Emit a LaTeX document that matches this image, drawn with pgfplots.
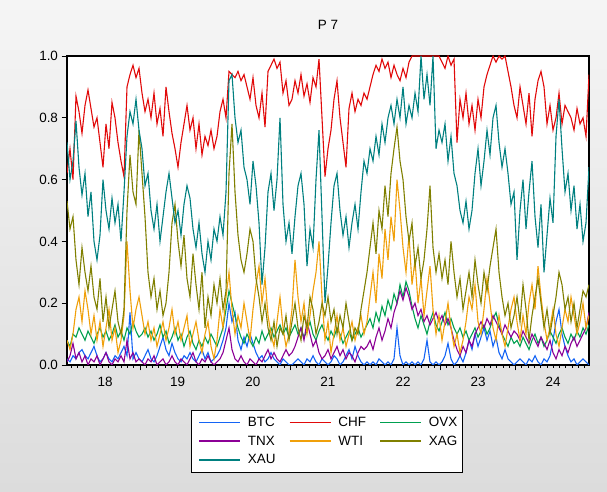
\documentclass[border=0pt]{standalone}
\usepackage{pgfplots}
\pgfplotsset{compat=1.18}
\usepackage{fontspec}
\setmainfont{Liberation Sans}
\definecolor{cBTC}{RGB}{20,100,245}
\definecolor{cCHF}{RGB}{225,10,10}
\definecolor{cOVX}{RGB}{0,160,80}
\definecolor{cTNX}{RGB}{140,0,150}
\definecolor{cWTI}{RGB}{240,160,10}
\definecolor{cXAG}{RGB}{128,128,0}
\definecolor{cXAU}{RGB}{0,128,128}
\definecolor{bgtop}{RGB}{245,245,245}
\definecolor{bgbot}{RGB}{220,220,220}
\begin{document}
\begin{tikzpicture}[x=1bp,y=1bp]
\shade[top color=bgtop, bottom color=bgbot] (0,0) rectangle (607,492);
\node[font=\fontsize{13.5}{16}\selectfont] at (328,467) {P 7};
\begin{axis}[
  at={(67bp,127bp)}, anchor=south west,
  scale only axis, width=522bp, height=309bp,
  xmin=67, xmax=589, ymin=0, ymax=1,
  axis background/.style={fill=white},
  axis line style={line width=1.3bp, black},
  tick align=outside, tick pos=left,
  tick style={black, line width=0.8bp},
  major tick length=5.5bp, minor tick length=3bp,
  xtick={140.0,215.2,290.3,365.4,440.6,515.7},
  xticklabels={},
  minor xtick={71.16,77.42,...,589},
  extra x ticks={105,177.6,252.8,327.9,403,478.2,553},
  extra x tick labels={18,19,20,21,22,23,24},
  extra x tick style={major tick length=0pt},
  xticklabel style={yshift=-9bp},
  ytick={0,0.2,0.4,0.6,0.8,1},
  yticklabel style={/pgf/number format/.cd, fixed, fixed zerofill, precision=1},
  /pgf/number format/assume math mode=true,
  ticklabel style={font=\fontsize{13.5}{16}\selectfont},
  every axis plot/.append style={mark=none},
  legend columns=3,
  legend cell align=left,
  legend image code/.code={\draw[#1, line width=1.5bp] (0bp,0bp) -- (41bp,0bp);},
  legend style={at={(0.2375,-0.1456)}, anchor=north west, draw=black, line width=0.8bp, fill=white,
    font=\fontsize{13.5}{16}\selectfont, inner xsep=7bp, inner ysep=2.5bp,
    nodes={inner ysep=4bp, inner xsep=0bp}},
]
\addplot[draw=cBTC, line width=1.1bp] table[row sep=\\, x expr=67+3*\coordindex, y=v] {v\\
0.02\\ 0.01\\ 0.03\\ 0.02\\ 0.04\\ 0.05\\ 0.03\\ 0.02\\ 0.04\\ 0.06\\ 0.03\\ 0.01\\ 0.02\\ 0.04\\ 0.02\\ 0.01\\ 0.03\\ 0.02\\ 0.04\\ 0.06\\ 0.03\\ 0.17\\ 0.02\\ 0.04\\ 0.02\\
0.01\\ 0.03\\ 0.05\\ 0.02\\ 0.01\\ 0.03\\ 0.06\\ 0.09\\ 0.05\\ 0.03\\ 0.07\\ 0.04\\ 0.02\\ 0.01\\ 0.03\\ 0.02\\ 0.04\\ 0.02\\ 0.01\\ 0.03\\ 0.05\\ 0.02\\ 0.04\\ 0.01\\ 0.02\\
0.03\\ 0.05\\ 0.08\\ 0.12\\ 0.20\\ 0.14\\ 0.17\\ 0.08\\ 0.05\\ 0.09\\ 0.06\\ 0.10\\ 0.07\\ 0.04\\ 0.02\\ 0.03\\ 0.01\\ 0.02\\ 0.04\\ 0.02\\ 0.01\\ 0.00\\ 0.02\\ 0.01\\ 0.00\\
0.00\\ 0.01\\ 0.02\\ 0.01\\ 0.00\\ 0.02\\ 0.01\\ 0.03\\ 0.01\\ 0.00\\ 0.02\\ 0.01\\ 0.00\\ 0.01\\ 0.03\\ 0.02\\ 0.00\\ 0.01\\ 0.03\\ 0.05\\ 0.02\\ 0.06\\ 0.03\\ 0.01\\ 0.00\\
0.01\\ 0.00\\ 0.01\\ 0.00\\ 0.02\\ 0.01\\ 0.00\\ 0.01\\ 0.00\\ 0.02\\ 0.12\\ 0.03\\ 0.00\\ 0.01\\ 0.00\\ 0.01\\ 0.00\\ 0.01\\ 0.00\\ 0.02\\ 0.08\\ 0.01\\ 0.00\\ 0.01\\ 0.00\\
0.01\\ 0.03\\ 0.07\\ 0.02\\ 0.00\\ 0.01\\ 0.03\\ 0.01\\ 0.04\\ 0.08\\ 0.05\\ 0.10\\ 0.06\\ 0.09\\ 0.12\\ 0.08\\ 0.11\\ 0.06\\ 0.09\\ 0.04\\ 0.02\\ 0.05\\ 0.02\\ 0.01\\ 0.00\\
0.01\\ 0.02\\ 0.01\\ 0.00\\ 0.02\\ 0.01\\ 0.03\\ 0.01\\ 0.00\\ 0.02\\ 0.01\\ 0.03\\ 0.08\\ 0.14\\ 0.18\\ 0.10\\ 0.06\\ 0.03\\ 0.01\\ 0.02\\ 0.00\\ 0.01\\ 0.02\\ 0.01\\ 0.00\\
};
\addlegendentry{\makebox[48bp][l]{\hspace{7bp}BTC}}
\addplot[draw=cCHF, line width=1.1bp] table[row sep=\\, x expr=67+3*\coordindex, y=v] {v\\
0.62\\ 0.70\\ 0.60\\ 0.87\\ 0.82\\ 0.75\\ 0.84\\ 0.89\\ 0.83\\ 0.77\\ 0.80\\ 0.72\\ 0.64\\ 0.78\\ 0.70\\ 0.85\\ 0.80\\ 0.72\\ 0.66\\ 0.61\\ 0.90\\ 0.94\\ 0.97\\ 0.93\\ 0.96\\
0.88\\ 0.82\\ 0.86\\ 0.80\\ 0.88\\ 0.78\\ 0.83\\ 0.74\\ 0.90\\ 0.82\\ 0.75\\ 0.70\\ 0.64\\ 0.72\\ 0.78\\ 0.84\\ 0.76\\ 0.80\\ 0.70\\ 0.78\\ 0.68\\ 0.74\\ 0.71\\ 0.76\\ 0.70\\
0.74\\ 0.82\\ 0.86\\ 0.80\\ 0.95\\ 0.94\\ 0.93\\ 0.95\\ 0.92\\ 0.94\\ 0.90\\ 0.86\\ 0.93\\ 0.84\\ 0.80\\ 0.88\\ 0.77\\ 0.95\\ 0.97\\ 0.99\\ 0.96\\ 0.98\\ 0.88\\ 0.92\\ 0.84\\
0.86\\ 0.92\\ 0.88\\ 0.94\\ 0.87\\ 0.91\\ 0.85\\ 0.93\\ 0.90\\ 0.99\\ 0.80\\ 0.61\\ 0.70\\ 0.76\\ 0.86\\ 0.92\\ 0.80\\ 0.72\\ 0.64\\ 0.83\\ 0.88\\ 0.82\\ 0.86\\ 0.84\\ 0.88\\
0.86\\ 0.90\\ 0.94\\ 0.97\\ 0.95\\ 0.99\\ 0.96\\ 0.98\\ 0.93\\ 0.97\\ 0.94\\ 0.92\\ 0.96\\ 0.93\\ 0.98\\ 1.00\\ 1.00\\ 1.00\\ 1.00\\ 1.00\\ 1.00\\ 1.00\\ 1.00\\ 1.00\\ 1.00\\
0.98\\ 0.96\\ 1.00\\ 0.97\\ 0.99\\ 0.72\\ 0.86\\ 0.80\\ 0.88\\ 0.78\\ 0.84\\ 0.76\\ 0.86\\ 0.80\\ 0.90\\ 0.94\\ 0.97\\ 1.00\\ 0.98\\ 1.00\\ 0.99\\ 1.00\\ 0.95\\ 0.90\\ 0.84\\
0.80\\ 0.90\\ 0.84\\ 0.78\\ 0.88\\ 0.74\\ 0.86\\ 0.92\\ 0.95\\ 0.90\\ 0.78\\ 0.84\\ 0.76\\ 0.80\\ 0.88\\ 0.78\\ 0.84\\ 0.82\\ 0.80\\ 0.76\\ 0.83\\ 0.78\\ 0.80\\ 0.74\\ 0.94\\
};
\addlegendentry{\makebox[48bp][l]{\hspace{7bp}CHF}}
\addplot[draw=cOVX, line width=1.1bp] table[row sep=\\, x expr=67+3*\coordindex, y=v] {v\\
0.08\\ 0.06\\ 0.10\\ 0.09\\ 0.12\\ 0.10\\ 0.08\\ 0.11\\ 0.09\\ 0.07\\ 0.10\\ 0.12\\ 0.09\\ 0.11\\ 0.08\\ 0.10\\ 0.13\\ 0.09\\ 0.11\\ 0.08\\ 0.12\\ 0.10\\ 0.14\\ 0.11\\ 0.09\\
0.10\\ 0.12\\ 0.09\\ 0.11\\ 0.08\\ 0.10\\ 0.13\\ 0.09\\ 0.11\\ 0.07\\ 0.09\\ 0.12\\ 0.08\\ 0.10\\ 0.06\\ 0.09\\ 0.11\\ 0.07\\ 0.05\\ 0.08\\ 0.06\\ 0.09\\ 0.07\\ 0.10\\ 0.08\\
0.06\\ 0.09\\ 0.12\\ 0.18\\ 0.24\\ 0.20\\ 0.16\\ 0.12\\ 0.09\\ 0.07\\ 0.10\\ 0.08\\ 0.06\\ 0.09\\ 0.07\\ 0.11\\ 0.08\\ 0.10\\ 0.12\\ 0.09\\ 0.11\\ 0.13\\ 0.10\\ 0.12\\ 0.09\\
0.11\\ 0.13\\ 0.10\\ 0.12\\ 0.09\\ 0.11\\ 0.14\\ 0.10\\ 0.08\\ 0.11\\ 0.13\\ 0.10\\ 0.08\\ 0.11\\ 0.09\\ 0.12\\ 0.10\\ 0.07\\ 0.09\\ 0.11\\ 0.08\\ 0.10\\ 0.12\\ 0.09\\ 0.11\\
0.13\\ 0.15\\ 0.12\\ 0.17\\ 0.14\\ 0.19\\ 0.16\\ 0.21\\ 0.18\\ 0.23\\ 0.20\\ 0.26\\ 0.22\\ 0.27\\ 0.24\\ 0.19\\ 0.15\\ 0.12\\ 0.16\\ 0.13\\ 0.10\\ 0.14\\ 0.17\\ 0.13\\ 0.11\\
0.14\\ 0.17\\ 0.13\\ 0.15\\ 0.12\\ 0.10\\ 0.12\\ 0.09\\ 0.11\\ 0.08\\ 0.10\\ 0.12\\ 0.09\\ 0.11\\ 0.13\\ 0.10\\ 0.12\\ 0.15\\ 0.17\\ 0.13\\ 0.10\\ 0.08\\ 0.06\\ 0.09\\ 0.07\\
0.08\\ 0.06\\ 0.09\\ 0.07\\ 0.05\\ 0.08\\ 0.10\\ 0.07\\ 0.09\\ 0.06\\ 0.08\\ 0.11\\ 0.09\\ 0.07\\ 0.10\\ 0.12\\ 0.09\\ 0.07\\ 0.10\\ 0.08\\ 0.11\\ 0.09\\ 0.12\\ 0.10\\ 0.13\\
};
\addlegendentry{\makebox[34bp][l]{\hspace{7bp}OVX}}
\addplot[draw=cTNX, line width=1.1bp] table[row sep=\\, x expr=67+3*\coordindex, y=v] {v\\
0.01\\ 0.03\\ 0.07\\ 0.02\\ 0.04\\ 0.01\\ 0.03\\ 0.00\\ 0.02\\ 0.01\\ 0.03\\ 0.00\\ 0.02\\ 0.04\\ 0.01\\ 0.00\\ 0.02\\ 0.01\\ 0.03\\ 0.01\\ 0.08\\ 0.02\\ 0.04\\ 0.01\\ 0.02\\
0.01\\ 0.00\\ 0.02\\ 0.01\\ 0.03\\ 0.00\\ 0.01\\ 0.02\\ 0.00\\ 0.01\\ 0.03\\ 0.01\\ 0.00\\ 0.02\\ 0.01\\ 0.00\\ 0.02\\ 0.04\\ 0.01\\ 0.00\\ 0.02\\ 0.01\\ 0.03\\ 0.01\\ 0.00\\
0.01\\ 0.02\\ 0.04\\ 0.08\\ 0.12\\ 0.05\\ 0.02\\ 0.01\\ 0.03\\ 0.01\\ 0.00\\ 0.02\\ 0.01\\ 0.00\\ 0.02\\ 0.01\\ 0.03\\ 0.05\\ 0.02\\ 0.04\\ 0.02\\ 0.01\\ 0.03\\ 0.05\\ 0.03\\
0.04\\ 0.06\\ 0.09\\ 0.12\\ 0.08\\ 0.14\\ 0.10\\ 0.06\\ 0.08\\ 0.04\\ 0.02\\ 0.03\\ 0.05\\ 0.02\\ 0.04\\ 0.06\\ 0.03\\ 0.05\\ 0.02\\ 0.04\\ 0.03\\ 0.01\\ 0.04\\ 0.06\\ 0.05\\
0.06\\ 0.08\\ 0.05\\ 0.09\\ 0.12\\ 0.08\\ 0.11\\ 0.15\\ 0.12\\ 0.17\\ 0.20\\ 0.24\\ 0.21\\ 0.25\\ 0.22\\ 0.18\\ 0.20\\ 0.16\\ 0.18\\ 0.14\\ 0.16\\ 0.13\\ 0.15\\ 0.17\\ 0.14\\
0.16\\ 0.13\\ 0.15\\ 0.12\\ 0.08\\ 0.05\\ 0.03\\ 0.06\\ 0.04\\ 0.08\\ 0.06\\ 0.10\\ 0.12\\ 0.14\\ 0.12\\ 0.15\\ 0.13\\ 0.16\\ 0.14\\ 0.12\\ 0.10\\ 0.13\\ 0.11\\ 0.09\\ 0.11\\
0.10\\ 0.08\\ 0.11\\ 0.09\\ 0.07\\ 0.10\\ 0.08\\ 0.06\\ 0.09\\ 0.07\\ 0.05\\ 0.08\\ 0.04\\ 0.02\\ 0.05\\ 0.03\\ 0.06\\ 0.04\\ 0.07\\ 0.09\\ 0.06\\ 0.08\\ 0.10\\ 0.12\\ 0.17\\
};
\addlegendentry{\makebox[48bp][l]{\hspace{7bp}TNX}}
\addplot[draw=cWTI, line width=1.1bp] table[row sep=\\, x expr=67+3*\coordindex, y=v] {v\\
0.08\\ 0.05\\ 0.10\\ 0.18\\ 0.22\\ 0.14\\ 0.24\\ 0.18\\ 0.10\\ 0.16\\ 0.08\\ 0.14\\ 0.06\\ 0.12\\ 0.18\\ 0.08\\ 0.12\\ 0.04\\ 0.08\\ 0.16\\ 0.40\\ 0.24\\ 0.12\\ 0.18\\ 0.22\\
0.16\\ 0.10\\ 0.14\\ 0.08\\ 0.12\\ 0.06\\ 0.10\\ 0.14\\ 0.08\\ 0.12\\ 0.18\\ 0.10\\ 0.14\\ 0.08\\ 0.12\\ 0.16\\ 0.06\\ 0.10\\ 0.14\\ 0.08\\ 0.04\\ 0.10\\ 0.14\\ 0.06\\ 0.02\\
0.08\\ 0.18\\ 0.12\\ 0.22\\ 0.30\\ 0.18\\ 0.10\\ 0.16\\ 0.12\\ 0.20\\ 0.14\\ 0.08\\ 0.18\\ 0.26\\ 0.32\\ 0.20\\ 0.28\\ 0.16\\ 0.10\\ 0.06\\ 0.14\\ 0.22\\ 0.12\\ 0.06\\ 0.10\\
0.18\\ 0.34\\ 0.22\\ 0.14\\ 0.20\\ 0.10\\ 0.16\\ 0.24\\ 0.30\\ 0.40\\ 0.22\\ 0.08\\ 0.14\\ 0.04\\ 0.10\\ 0.16\\ 0.08\\ 0.12\\ 0.06\\ 0.10\\ 0.14\\ 0.08\\ 0.12\\ 0.16\\ 0.10\\
0.14\\ 0.22\\ 0.30\\ 0.20\\ 0.36\\ 0.28\\ 0.44\\ 0.34\\ 0.48\\ 0.40\\ 0.60\\ 0.50\\ 0.38\\ 0.30\\ 0.42\\ 0.26\\ 0.34\\ 0.20\\ 0.28\\ 0.16\\ 0.24\\ 0.32\\ 0.18\\ 0.10\\ 0.16\\
0.08\\ 0.14\\ 0.20\\ 0.12\\ 0.06\\ 0.10\\ 0.04\\ 0.08\\ 0.14\\ 0.22\\ 0.18\\ 0.26\\ 0.14\\ 0.10\\ 0.18\\ 0.28\\ 0.20\\ 0.12\\ 0.08\\ 0.16\\ 0.10\\ 0.06\\ 0.12\\ 0.18\\ 0.22\\
0.14\\ 0.08\\ 0.16\\ 0.10\\ 0.20\\ 0.26\\ 0.18\\ 0.32\\ 0.22\\ 0.14\\ 0.08\\ 0.12\\ 0.18\\ 0.10\\ 0.06\\ 0.12\\ 0.18\\ 0.14\\ 0.22\\ 0.16\\ 0.10\\ 0.14\\ 0.20\\ 0.12\\ 0.16\\
};
\addlegendentry{\makebox[48bp][l]{\hspace{7bp}WTI}}
\addplot[draw=cXAG, line width=1.1bp] table[row sep=\\, x expr=67+3*\coordindex, y=v] {v\\
0.53\\ 0.44\\ 0.48\\ 0.34\\ 0.26\\ 0.38\\ 0.30\\ 0.24\\ 0.32\\ 0.22\\ 0.18\\ 0.28\\ 0.14\\ 0.22\\ 0.12\\ 0.18\\ 0.24\\ 0.14\\ 0.10\\ 0.18\\ 0.50\\ 0.68\\ 0.56\\ 0.52\\ 0.76\\
0.62\\ 0.48\\ 0.30\\ 0.22\\ 0.28\\ 0.18\\ 0.24\\ 0.16\\ 0.20\\ 0.30\\ 0.46\\ 0.52\\ 0.40\\ 0.32\\ 0.42\\ 0.28\\ 0.22\\ 0.36\\ 0.26\\ 0.18\\ 0.30\\ 0.12\\ 0.22\\ 0.16\\ 0.26\\
0.20\\ 0.28\\ 0.18\\ 0.24\\ 0.62\\ 0.78\\ 0.56\\ 0.42\\ 0.34\\ 0.30\\ 0.36\\ 0.44\\ 0.40\\ 0.28\\ 0.22\\ 0.14\\ 0.20\\ 0.12\\ 0.08\\ 0.14\\ 0.06\\ 0.12\\ 0.10\\ 0.16\\ 0.08\\
0.14\\ 0.20\\ 0.12\\ 0.08\\ 0.16\\ 0.12\\ 0.22\\ 0.18\\ 0.10\\ 0.14\\ 0.20\\ 0.16\\ 0.22\\ 0.14\\ 0.18\\ 0.10\\ 0.16\\ 0.12\\ 0.20\\ 0.14\\ 0.08\\ 0.12\\ 0.10\\ 0.18\\ 0.24\\
0.30\\ 0.38\\ 0.46\\ 0.36\\ 0.50\\ 0.44\\ 0.58\\ 0.48\\ 0.62\\ 0.70\\ 0.77\\ 0.66\\ 0.60\\ 0.48\\ 0.40\\ 0.46\\ 0.32\\ 0.38\\ 0.28\\ 0.34\\ 0.44\\ 0.58\\ 0.38\\ 0.30\\ 0.36\\
0.28\\ 0.34\\ 0.26\\ 0.40\\ 0.30\\ 0.22\\ 0.28\\ 0.18\\ 0.24\\ 0.30\\ 0.22\\ 0.34\\ 0.26\\ 0.20\\ 0.30\\ 0.24\\ 0.32\\ 0.38\\ 0.44\\ 0.30\\ 0.22\\ 0.16\\ 0.20\\ 0.12\\ 0.16\\
0.22\\ 0.14\\ 0.26\\ 0.18\\ 0.08\\ 0.16\\ 0.22\\ 0.28\\ 0.20\\ 0.12\\ 0.18\\ 0.10\\ 0.16\\ 0.22\\ 0.30\\ 0.26\\ 0.18\\ 0.22\\ 0.14\\ 0.20\\ 0.12\\ 0.18\\ 0.24\\ 0.22\\ 0.26\\
};
\addlegendentry{\makebox[34bp][l]{\hspace{7bp}XAG}}
\addplot[draw=cXAU, line width=1.1bp] table[row sep=\\, x expr=67+3*\coordindex, y=v] {v\\
0.72\\ 0.60\\ 0.66\\ 0.79\\ 0.64\\ 0.55\\ 0.62\\ 0.48\\ 0.56\\ 0.40\\ 0.34\\ 0.42\\ 0.60\\ 0.50\\ 0.44\\ 0.54\\ 0.46\\ 0.52\\ 0.40\\ 0.56\\ 0.74\\ 0.82\\ 0.78\\ 0.86\\ 0.76\\
0.70\\ 0.58\\ 0.62\\ 0.50\\ 0.44\\ 0.52\\ 0.40\\ 0.48\\ 0.56\\ 0.62\\ 0.54\\ 0.46\\ 0.50\\ 0.42\\ 0.52\\ 0.58\\ 0.54\\ 0.44\\ 0.38\\ 0.46\\ 0.36\\ 0.30\\ 0.40\\ 0.34\\ 0.44\\
0.40\\ 0.48\\ 0.42\\ 0.56\\ 0.92\\ 0.94\\ 0.80\\ 0.72\\ 0.76\\ 0.64\\ 0.60\\ 0.52\\ 0.66\\ 0.58\\ 0.46\\ 0.26\\ 0.38\\ 0.56\\ 0.62\\ 0.50\\ 0.60\\ 0.80\\ 0.52\\ 0.40\\ 0.46\\
0.36\\ 0.48\\ 0.58\\ 0.62\\ 0.52\\ 0.32\\ 0.44\\ 0.38\\ 0.60\\ 0.76\\ 0.48\\ 0.20\\ 0.32\\ 0.46\\ 0.58\\ 0.62\\ 0.50\\ 0.42\\ 0.48\\ 0.38\\ 0.46\\ 0.52\\ 0.44\\ 0.56\\ 0.66\\
0.62\\ 0.70\\ 0.66\\ 0.74\\ 0.68\\ 0.78\\ 0.72\\ 0.80\\ 0.84\\ 0.78\\ 0.86\\ 0.80\\ 0.90\\ 0.78\\ 0.84\\ 0.80\\ 0.88\\ 0.82\\ 1.00\\ 0.86\\ 0.94\\ 0.84\\ 1.00\\ 0.70\\ 0.76\\
0.72\\ 0.78\\ 0.66\\ 0.74\\ 0.62\\ 0.58\\ 0.50\\ 0.46\\ 0.53\\ 0.44\\ 0.50\\ 0.62\\ 0.70\\ 0.58\\ 0.66\\ 0.76\\ 0.68\\ 0.80\\ 0.84\\ 0.72\\ 0.64\\ 0.70\\ 0.62\\ 0.52\\ 0.56\\
0.34\\ 0.50\\ 0.60\\ 0.44\\ 0.56\\ 0.66\\ 0.48\\ 0.38\\ 0.52\\ 0.30\\ 0.42\\ 0.54\\ 0.46\\ 0.74\\ 0.86\\ 0.70\\ 0.56\\ 0.62\\ 0.50\\ 0.58\\ 0.44\\ 0.52\\ 0.40\\ 0.46\\ 0.64\\
};
\addlegendentry{\makebox[48bp][l]{\hspace{7bp}XAU}}
\end{axis}
\end{tikzpicture}
\end{document}
